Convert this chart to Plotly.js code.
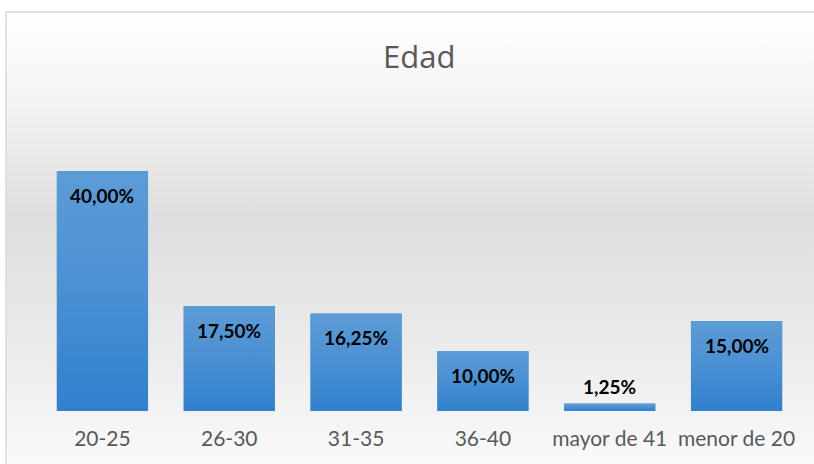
<!DOCTYPE html>
<html><head><meta charset="utf-8">
<script src="https://cdn.plot.ly/plotly-3.0.1.min.js"></script>
<style>html,body{margin:0;padding:0;background:#fff}</style>
</head><body><div id="chart" style="width:814px;height:464px"></div>
<script>
const categories = ['20-25','26-30','31-35','36-40','mayor de 41','menor de 20'];
const values = [0.40, 0.175, 0.1625, 0.10, 0.0125, 0.15];
const labels = ['40,00%','17,50%','16,25%','10,00%','1,25%','15,00%'];

function svgUri(stops){
  return 'data:image/svg+xml;utf8,' + encodeURIComponent(
   '<svg xmlns="http://www.w3.org/2000/svg" width="10" height="100" preserveAspectRatio="none">' +
   '<defs><linearGradient id="g" x1="0" y1="0" x2="0" y2="1">' +
   stops.map(s=>'<stop offset="'+s[0]+'" stop-color="'+s[1]+'"/>').join('') +
   '</linearGradient></defs><rect width="10" height="100" fill="url(#g)"/></svg>');
}
const bg = svgUri([[0,'#ffffff'],[0.2,'#f3f3f3'],[0.45,'#dedede'],[0.75,'#ececec'],[1,'#fafafa']]);
const barGrad = svgUri([[0,'#5c9cd6'],[0.5,'#4a90d3'],[1,'#3080cc']]);

const BW = 0.72;
const annotations = values.map((v,i)=>({
  x: categories[i], y: v, xref:'x', yref:'y', text: '<b>'+labels[i]+'</b>',
  showarrow:false, yshift: v < 0.05 ? 17 : -24,
  font:{family:'Lato, "Open Sans", sans-serif', size:19, color:'#000'}
}));

const barImages = values.map((v,i)=>({
  source: barGrad, xref:'x', yref:'y', x: i - BW/2, y: v, sizex: BW, sizey: v,
  sizing:'stretch', xanchor:'left', yanchor:'top', layer:'above'
}));

const data = [{
  type:'bar', x:categories, y:values,
  marker:{color:'#4a90d3'}, width:BW, hoverinfo:'none'
}];

const layout = {
  width:814, height:464,
  margin:{l:39, r:14, t:141, b:53},
  paper_bgcolor:'rgba(0,0,0,0)', plot_bgcolor:'rgba(0,0,0,0)',
  title:{text:'Edad', x:0.515, xanchor:'center', y:1-57/464, yanchor:'middle', yref:'container',
    font:{family:'"Liberation Sans Narrow", "Open Sans", sans-serif', size:31, color:'#595959'}},
  xaxis:{showgrid:false, zeroline:false, showline:false, ticks:'', ticklabelstandoff:13,
    tickfont:{family:'Lato, "Open Sans", sans-serif', size:21, color:'#595959'}},
  yaxis:{range:[0,0.45], visible:false},
  showlegend:false,
  annotations: annotations,
  images:[{source:bg, xref:'paper', yref:'paper', x:(6-39)/761, y:(411-12)/270,
    sizex:(820-6)/761, sizey:(470-12)/270, sizing:'stretch', xanchor:'left', yanchor:'top', layer:'below'}].concat(barImages),
  shapes:[{type:'rect', xref:'paper', yref:'paper', x0:(6-39)/761, x1:(820-39)/761,
    y0:(411-470)/270, y1:(411-12)/270, line:{color:'#d9d9d9', width:1.5}, fillcolor:'rgba(0,0,0,0)', layer:'below'}]
};
Plotly.newPlot('chart', data, layout, {staticPlot:true});
</script></body></html>
